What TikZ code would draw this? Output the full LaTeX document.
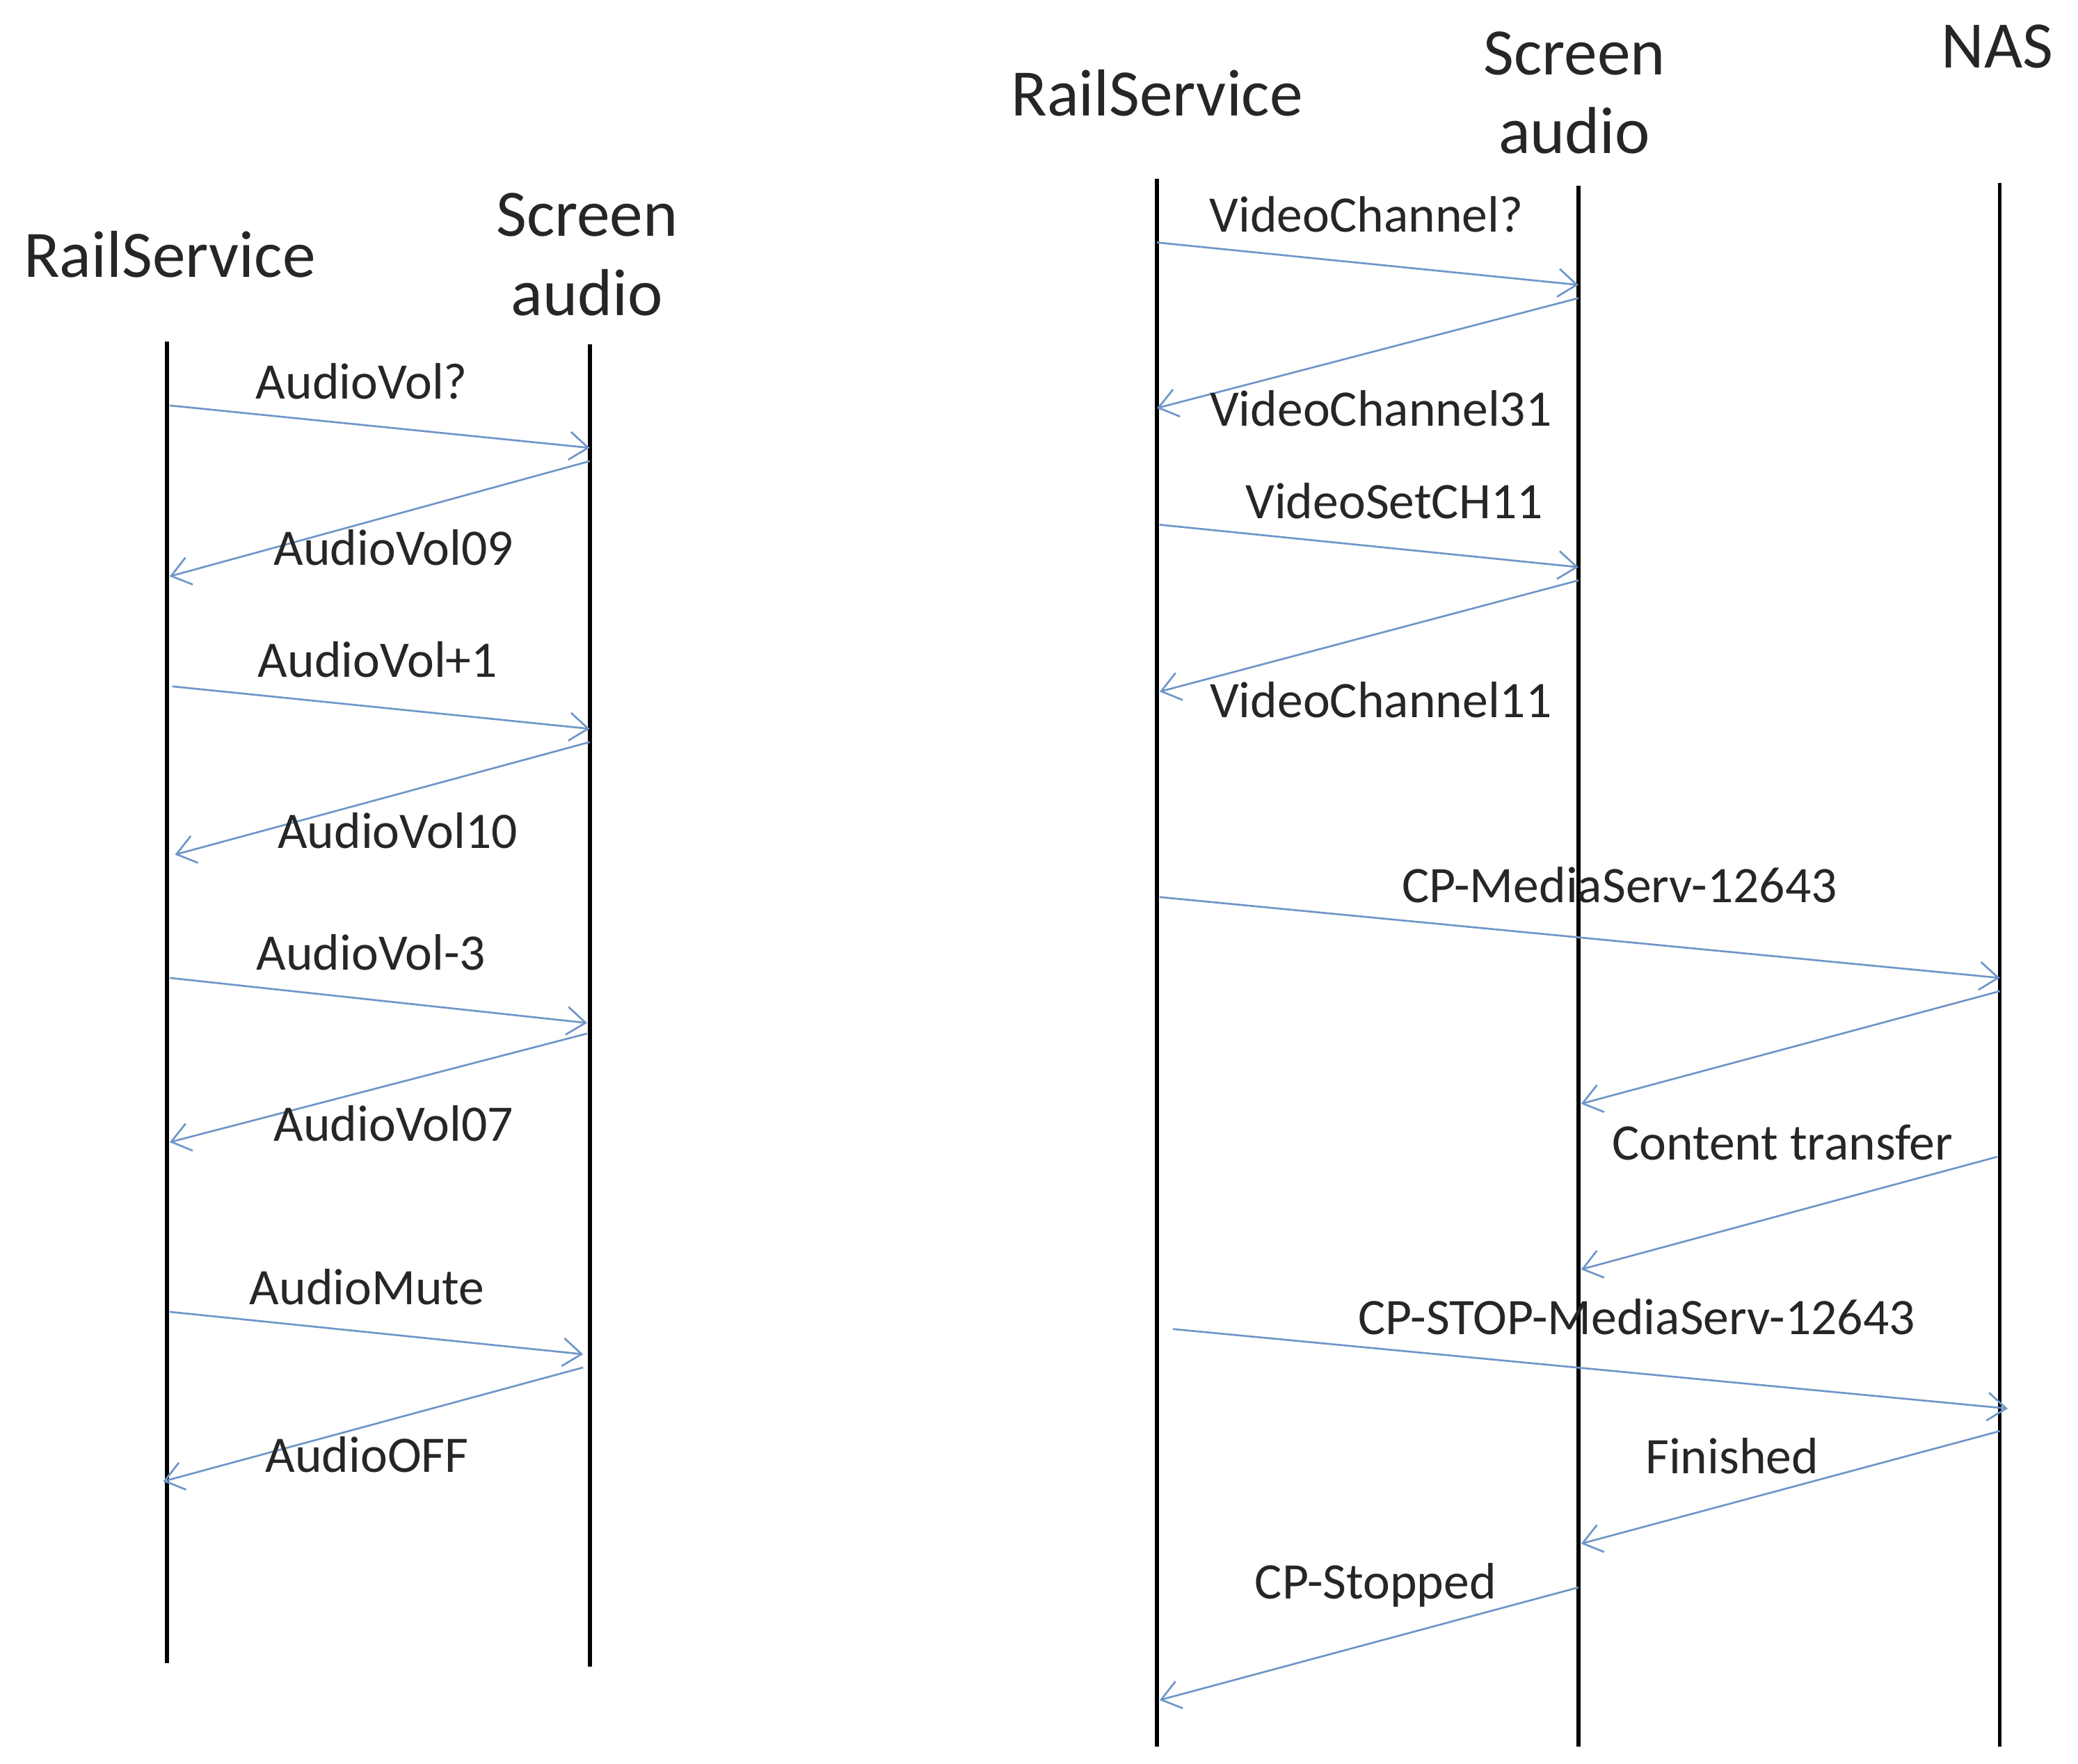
\documentclass[tikz,border=0pt]{standalone}
\usepackage{fontspec}
\setmainfont{Carlito}
\usetikzlibrary{arrows.meta}
\begin{document}
\begin{tikzpicture}[x=0.02cm,y=-0.02cm,
  life/.style={line width=1.7pt,black},
  msg/.style={line width=0.8pt,draw={rgb,255:red,110;green,150;blue,200},-{Straight Barb[length=8pt,width=12pt]}},
  lbl/.style={font=\fontsize{22}{26}\selectfont,text=black!85,inner sep=0pt},
  head/.style={font=\fontsize{28.5}{32}\selectfont,text=black!85,inner sep=0pt,align=center}]
\useasboundingbox (0,0) rectangle (1568,1331);
% left lifelines
\node[head] (h1) at (128,192) {RailService};
\node[head] (h2) at (443,192) {Screen\\[2pt]audio};
\coordinate (a1) at (126,258); \coordinate (a2) at (126,1255);
\coordinate (b1) at (445,260); \coordinate (b2) at (445,1258);
\draw[life] (a1) -- (a2); \draw[life] (b1) -- (b2);
% right lifelines
\node[head] (h3) at (873,70) {RailService};
\node[head] (h4) at (1188,70) {Screen\\[2pt]audio};
\node[head] (h5) at (1507,35) {NAS};
\coordinate (c1) at (873,135); \coordinate (c2) at (873,1318);
\coordinate (d1) at (1191,140); \coordinate (d2) at (1191,1318);
\coordinate (e1) at (1509,138); \coordinate (e2) at (1509,1318);
\draw[life] (c1) -- (c2); \draw[life] (d1) -- (d2); \draw[life] (e1) -- (e2);
% left messages
\coordinate (m1s) at (128,306); \coordinate (m1e) at (445,338);
\coordinate (m2s) at (445,348); \coordinate (m2e) at (128,435);
\coordinate (m3s) at (130,518); \coordinate (m3e) at (445,550);
\coordinate (m4s) at (445,560); \coordinate (m4e) at (132,645);
\coordinate (m5s) at (128,738); \coordinate (m5e) at (443,772);
\coordinate (m6s) at (443,780); \coordinate (m6e) at (128,862);
\coordinate (m7s) at (128,990); \coordinate (m7e) at (440,1022);
\coordinate (m8s) at (440,1032); \coordinate (m8e) at (123,1118);
\draw[msg] (m1s) -- (m1e); \draw[msg] (m2s) -- (m2e);
\draw[msg] (m3s) -- (m3e); \draw[msg] (m4s) -- (m4e);
\draw[msg] (m5s) -- (m5e); \draw[msg] (m6s) -- (m6e);
\draw[msg] (m7s) -- (m7e); \draw[msg] (m8s) -- (m8e);
\node[lbl] (l1) at (273,288) {AudioVol?};
\node[lbl] (l2) at (297,413) {AudioVol09};
\node[lbl] (l3) at (285,498) {AudioVol+1};
\node[lbl] (l4) at (300,627) {AudioVol10};
\node[lbl] (l5) at (280,719) {AudioVol-3};
\node[lbl] (l6) at (297,848) {AudioVol07};
\node[lbl] (l7) at (277,971) {AudioMute};
\node[lbl] (l8) at (277,1098) {AudioOFF};
% right messages
\coordinate (n1s) at (873,183); \coordinate (n1e) at (1191,215);
\coordinate (n2s) at (1191,225); \coordinate (n2e) at (873,308);
\coordinate (n3s) at (875,396); \coordinate (n3e) at (1191,428);
\coordinate (n4s) at (1191,438); \coordinate (n4e) at (875,522);
\coordinate (n5s) at (875,677); \coordinate (n5e) at (1509,738);
\coordinate (n6s) at (1509,748); \coordinate (n6e) at (1193,833);
\coordinate (n7s) at (1507,873); \coordinate (n7e) at (1193,958);
\coordinate (n8s) at (885,1003); \coordinate (n8e) at (1515,1063);
\coordinate (n9s) at (1509,1080); \coordinate (n9e) at (1193,1165);
\coordinate (n10s) at (1191,1198); \coordinate (n10e) at (875,1283);
\draw[msg] (n1s) -- (n1e); \draw[msg] (n2s) -- (n2e);
\draw[msg] (n3s) -- (n3e); \draw[msg] (n4s) -- (n4e);
\draw[msg] (n5s) -- (n5e); \draw[msg] (n6s) -- (n6e);
\draw[msg] (n7s) -- (n7e); \draw[msg] (n8s) -- (n8e);
\draw[msg] (n9s) -- (n9e); \draw[msg] (n10s) -- (n10e);
\node[lbl] (k1) at (1031,162) {VideoChannel?};
\node[lbl] (k2) at (1042,308) {VideoChannel31};
\node[lbl] (k3) at (1052,378) {VideoSetCH11};
\node[lbl] (k4) at (1042,528) {VideoChannel11};
\node[lbl] (k5) at (1222,668) {CP-MediaServ-12643};
\node[lbl] (k7) at (1345,862) {Content transfer};
\node[lbl] (k8) at (1235,994) {CP-STOP-MediaServ-12643};
\node[lbl] (k9) at (1307,1099) {Finished};
\node[lbl] (k10) at (1038,1196) {CP-Stopped};
\end{tikzpicture}
\end{document}
